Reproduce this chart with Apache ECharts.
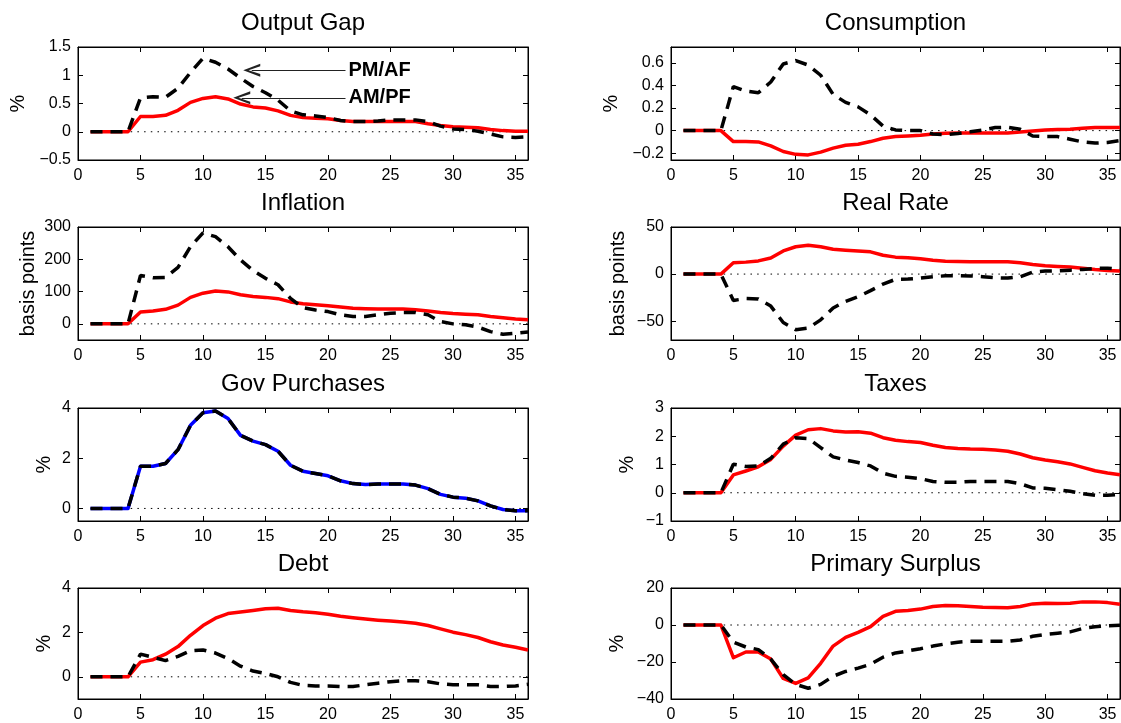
<!DOCTYPE html>
<html>
<head>
<meta charset="utf-8">
<title>Impulse responses</title>
<script src="https://cdn.jsdelivr.net/npm/echarts@6/dist/echarts.min.js"></script>
<style>
  html, body { margin: 0; padding: 0; background: #fff; }
  #chart { width: 1121px; height: 723px; }
</style>
</head>
<body>
<div id="chart"></div>
<script>
// quarters after the shock
const periods = [1, 2, 3, 4, 5, 6, 7, 8, 9, 10, 11, 12, 13, 14, 15, 16, 17, 18,
  19, 20, 21, 22, 23, 24, 25, 26, 27, 28, 29, 30, 31, 32, 33, 34, 35, 36]
const xTicks = [0, 5, 10, 15, 20, 25, 30, 35]

// AM/PF = red solid, PM/AF = black dashed
const outputGapAMPF = [0, 0, 0, 0, 0.27, 0.27, 0.29, 0.38, 0.52, 0.59, 0.62, 0.58, 0.49, 0.44, 0.42, 0.37, 0.29, 0.25,
  0.24, 0.23, 0.2, 0.18, 0.18, 0.18, 0.18, 0.18, 0.18, 0.14, 0.11, 0.09, 0.08, 0.07, 0.04, 0.02, 0.01, 0.01]
const outputGapPMAF = [0, 0, 0, 0, 0.6, 0.62, 0.61, 0.77, 1.05, 1.3, 1.23, 1.11, 0.95, 0.8, 0.69, 0.56, 0.37, 0.3,
  0.28, 0.25, 0.2, 0.18, 0.18, 0.19, 0.21, 0.21, 0.21, 0.18, 0.1, 0.05, 0.04, 0.01, -0.04, -0.09, -0.1, -0.09]
const outputGapTicks = [-0.5, 0, 0.5, 1, 1.5]

const consumptionAMPF = [0, 0, 0, 0, -0.097, -0.097, -0.1, -0.135, -0.185, -0.21, -0.215, -0.19, -0.155, -0.13, -0.12, -0.097, -0.068, -0.053,
  -0.047, -0.04, -0.03, -0.024, -0.02, -0.02, -0.02, -0.02, -0.02, -0.012, -0.003, 0.006, 0.01, 0.012, 0.02, 0.027, 0.027, 0.027]
const consumptionPMAF = [0, 0, 0, 0, 0.39, 0.35, 0.335, 0.43, 0.59, 0.62, 0.58, 0.49, 0.32, 0.25, 0.21, 0.14, 0.04, 0.006,
  0, 0, -0.03, -0.035, -0.025, -0.01, 0.006, 0.027, 0.03, 0.012, -0.047, -0.053, -0.053, -0.076, -0.1, -0.11, -0.105, -0.088]
const consumptionTicks = [-0.2, 0, 0.2, 0.4, 0.6]

const inflationAMPF = [0, 0, 0, 0, 37, 40, 45, 58, 82, 95, 102, 99, 90, 85, 82, 78, 68, 62,
  59, 56, 52, 48, 47, 46, 46, 46, 44, 40, 35, 32, 30, 28, 23, 19, 15, 13]
const inflationPMAF = [0, 0, 0, 0, 150, 143, 144, 175, 239, 282, 270, 239, 198, 165, 141, 121, 79, 50,
  43, 38, 28, 23, 23, 28, 33, 35, 35, 28, 7, 0, -3, -10, -24, -32, -29, -25]
const inflationTicks = [0, 100, 200, 300]

const realRateAMPF = [0, 0, 0, 0, 12, 12.7, 14, 17, 24.6, 29, 30.6, 29, 26.4, 25.4, 24.6, 23.6, 20, 18,
  17.3, 16.2, 14.8, 13.7, 13.4, 13, 13, 13, 13, 12, 10.2, 8.8, 8.1, 7.4, 6.3, 4.9, 3.9, 3.2]
const realRatePMAF = [0, 0, 0, 0, -28, -26, -26.4, -34, -51.4, -59, -57.4, -48.6, -36, -29, -24, -17.6, -10.6, -5.6,
  -5.3, -4.2, -2.8, -1.8, -1.8, -2, -2.8, -3.9, -4.2, -2.8, 2, 3.2, 3.5, 4.2, 4.9, 6, 6.3, 4.9]
const realRateTicks = [-50, 0, 50]

const govPurchases = [0, 0, 0, 0, 1.68, 1.68, 1.79, 2.34, 3.31, 3.81, 3.88, 3.58, 2.91, 2.68, 2.54, 2.28, 1.72, 1.48,
  1.39, 1.3, 1.1, 0.99, 0.95, 0.97, 0.97, 0.97, 0.93, 0.79, 0.56, 0.45, 0.41, 0.3, 0.1, -0.04, -0.09, -0.09]
const govPurchasesTicks = [0, 2, 4]

const taxesAMPF = [0, 0, 0, 0, 0.63, 0.77, 0.92, 1.18, 1.65, 2.04, 2.23, 2.27, 2.19, 2.15, 2.16, 2.11, 1.95, 1.86,
  1.81, 1.78, 1.68, 1.6, 1.57, 1.55, 1.54, 1.51, 1.47, 1.37, 1.24, 1.16, 1.1, 1.02, 0.9, 0.78, 0.7, 0.64]
const taxesPMAF = [0, 0, 0, 0, 1.01, 0.93, 0.95, 1.22, 1.72, 1.95, 1.92, 1.6, 1.27, 1.16, 1.07, 0.95, 0.69, 0.58,
  0.55, 0.5, 0.4, 0.37, 0.37, 0.4, 0.4, 0.4, 0.4, 0.32, 0.17, 0.16, 0.11, 0.05, -0.03, -0.09, -0.09, -0.06]
const taxesTicks = [-1, 0, 1, 2, 3]

const debtAMPF = [0, 0, 0, 0, 0.66, 0.77, 1.02, 1.36, 1.87, 2.31, 2.64, 2.85, 2.92, 2.99, 3.07, 3.09, 2.99, 2.93,
  2.89, 2.82, 2.73, 2.66, 2.6, 2.55, 2.51, 2.47, 2.41, 2.31, 2.16, 2.01, 1.9, 1.77, 1.58, 1.43, 1.33, 1.21]
const debtPMAF = [0, 0, 0, 0, 1.02, 0.88, 0.73, 0.92, 1.17, 1.21, 1.07, 0.82, 0.48, 0.26, 0.15, 0, -0.25, -0.39,
  -0.41, -0.41, -0.44, -0.44, -0.36, -0.29, -0.22, -0.18, -0.18, -0.22, -0.32, -0.36, -0.36, -0.36, -0.44, -0.44, -0.41, -0.34]
const debtTicks = [0, 2, 4]

const surplusAMPF = [0, 0, 0, 0, -17.7, -14.6, -14.6, -18.4, -28.9, -31.6, -28.6, -20.7, -11.4, -6.7, -4, -0.9, 4.7, 7.4,
  7.9, 8.6, 10, 10.5, 10.4, 10, 9.6, 9.5, 9.3, 10, 11.4, 11.8, 11.6, 11.8, 12.5, 12.5, 12.1, 11.2]
const surplusPMAF = [0, 0, 0, 0, -9.3, -11.9, -13.3, -18.4, -26.8, -32.1, -34.2, -32.1, -27.7, -25.1, -23.3, -21.2, -17.4, -15.1,
  -14, -12.8, -11.4, -10.2, -9.3, -8.8, -8.8, -8.8, -8.8, -8.1, -6.1, -5.1, -4.4, -3.7, -1.9, -0.9, -0.5, -0.2]
const surplusTicks = [-40, -20, 0, 20]

// arrows on the output gap panel
const arrowLabels = ['PM/AF', 'AM/PF']
const arrowFrom = [[21.4, 1.09], [21.4, 0.6]]
const arrowTo = [[13.9, 1.09], [13.1, 0.6]]

const zeroLine = [[periods[0], 0], [periods[periods.length - 1], 0]]

const fontFamily = '"Liberation Sans", Arial, Helvetica, sans-serif'
const RED = '#ff0000'
const BLUE = '#0000ff'
const BLACK = '#000000'

const panels = [
  { title: 'Output Gap', unit: '%', nameGap: 50, range: [-0.5, 1.5], ticks: outputGapTicks, solid: outputGapAMPF, dashed: outputGapPMAF, arrows: true },
  { title: 'Consumption', unit: '%', nameGap: 50, range: [-0.26, 0.74], ticks: consumptionTicks, solid: consumptionAMPF, dashed: consumptionPMAF },
  { title: 'Inflation', unit: 'basis points', nameGap: 40, range: [-50, 300], ticks: inflationTicks, solid: inflationAMPF, dashed: inflationPMAF },
  { title: 'Real Rate', unit: 'basis points', nameGap: 43, range: [-70, 50], ticks: realRateTicks, solid: realRateAMPF, dashed: realRatePMAF },
  { title: 'Gov Purchases', unit: '%', nameGap: 24, range: [-0.5, 4], ticks: govPurchasesTicks, solid: govPurchases, dashed: govPurchases, solidColor: BLUE },
  { title: 'Taxes', unit: '%', nameGap: 34, range: [-1, 3], ticks: taxesTicks, solid: taxesAMPF, dashed: taxesPMAF },
  { title: 'Debt', unit: '%', nameGap: 24, range: [-1, 4], ticks: debtTicks, solid: debtAMPF, dashed: debtPMAF },
  { title: 'Primary Surplus', unit: '%', nameGap: 44, range: [-40, 20], ticks: surplusTicks, solid: surplusAMPF, dashed: surplusPMAF },
]

// layout of the 4x2 panel grid
const colLeft = [78, 671]
const colWidth = [450, 449]
const rowTop = [47, 227, 408, 588]
const plotHeight = 113

const minus = v => String(v).replace('-', '\u2212')
const pairs = values => periods.map((t, k) => [t, values[k]])

function xAxisCfg(gridIndex, position, showLabels) {
  return {
    type: 'value', gridIndex, position, min: 0, max: 36,
    axisLine: { show: true, onZero: false, lineStyle: { color: BLACK, width: 1 } },
    axisTick: { show: true, inside: true, length: 5, customValues: xTicks, lineStyle: { color: BLACK, width: 1 } },
    axisLabel: { show: showLabels, customValues: xTicks, margin: 8, color: BLACK, fontSize: 16, fontFamily },
    splitLine: { show: false },
  }
}

function yAxisCfg(gridIndex, position, p, showLabels) {
  const cfg = {
    type: 'value', gridIndex, position, min: p.range[0], max: p.range[1],
    axisLine: { show: true, onZero: false, lineStyle: { color: BLACK, width: 1 } },
    axisTick: { show: true, inside: true, length: 5, customValues: p.ticks, lineStyle: { color: BLACK, width: 1 } },
    axisLabel: { show: showLabels, customValues: p.ticks, margin: 7, color: BLACK, fontSize: 16, fontFamily, formatter: minus },
    splitLine: { show: false },
  }
  if (showLabels) {
    Object.assign(cfg, {
      name: p.unit, nameLocation: 'middle', nameRotate: 90, nameGap: p.nameGap,
      nameTextStyle: { color: BLACK, fontSize: 20, fontFamily },
    })
  }
  return cfg
}

// open arrow head, tip pointing up before ECharts rotates it
const chevron = 'path://M6,0 L12,16 L9.6,16 L6,5 L2.4,16 L0,16 Z'

const option = { animation: false, backgroundColor: '#fff', title: [], grid: [], xAxis: [], yAxis: [], series: [] }

panels.forEach((p, i) => {
  const col = i % 2
  const row = Math.floor(i / 2)
  option.grid.push({
    left: colLeft[col], top: rowTop[row], width: colWidth[col], height: plotHeight,
    show: true, borderColor: BLACK, borderWidth: 1, backgroundColor: '#fff',
  })
  option.title.push({
    text: p.title, left: colLeft[col] + colWidth[col] / 2, top: rowTop[row] - 36,
    textAlign: 'center', padding: 0,
    textStyle: { color: BLACK, fontSize: 24, fontWeight: 'normal', fontFamily },
  })
  const xi = option.xAxis.length
  option.xAxis.push(xAxisCfg(i, 'bottom', true), xAxisCfg(i, 'top', false))
  const yi = option.yAxis.length
  option.yAxis.push(yAxisCfg(i, 'left', p, true), yAxisCfg(i, 'right', p, false))

  option.series.push({
    type: 'line', xAxisIndex: xi, yAxisIndex: yi, data: zeroLine, symbol: 'none', silent: true, z: 1,
    lineStyle: { color: BLACK, width: 1, type: [1.5, 5.2] },
  })
  option.series.push({
    type: 'line', xAxisIndex: xi, yAxisIndex: yi, data: pairs(p.solid), symbol: 'none', silent: true, z: 2,
    lineStyle: { color: p.solidColor || RED, width: 3.5, join: 'round' },
  })
  const dashed = {
    type: 'line', xAxisIndex: xi, yAxisIndex: yi, data: pairs(p.dashed), symbol: 'none', silent: true, z: 3,
    lineStyle: { color: BLACK, width: 3.5, type: [12, 8], cap: 'butt' },
  }
  if (p.arrows) {
    dashed.markLine = {
      silent: true, animation: false,
      symbol: ['none', chevron], symbolSize: [13, 17],
      lineStyle: { color: '#222', width: 1, type: 'solid' },
      label: {
        show: true, position: 'start', formatter: '{b}', distance: 3,
        color: BLACK, fontSize: 20, fontWeight: 'bold', fontFamily,
      },
      data: arrowLabels.map((name, k) => [{ name, coord: arrowFrom[k] }, { coord: arrowTo[k] }]),
    }
  }
  option.series.push(dashed)
})

const chart = echarts.init(document.getElementById('chart'), null, { renderer: 'canvas' })
chart.setOption(option)
</script>
</body>
</html>
